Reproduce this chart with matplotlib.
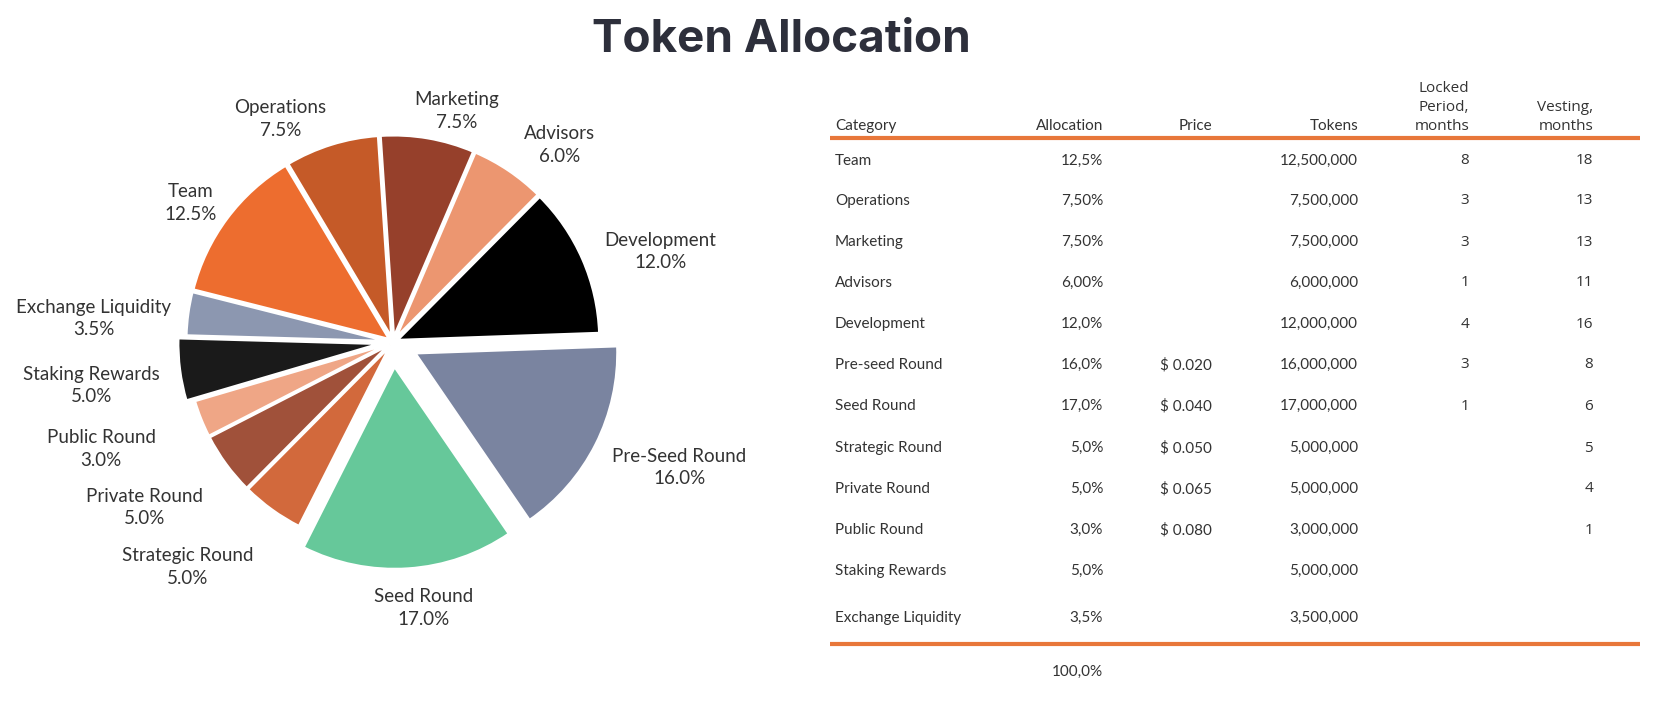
import numpy as np
import matplotlib
matplotlib.use("Agg")
import matplotlib.pyplot as plt

# ---------------- data ----------------
pie_labels = ["Development", "Advisors", "Marketing", "Operations", "Team",
              "Exchange Liquidity", "Staking Rewards", "Public Round",
              "Private Round", "Strategic Round", "Seed Round", "Pre-Seed Round"]
pie_values = [12.0, 6.0, 7.5, 7.5, 12.5, 3.5, 5.0, 3.0, 5.0, 5.0, 17.0, 16.0]

table_header = ["Category", "Allocation", "Price", "Tokens",
                "Locked\nPeriod,\nmonths", "Vesting,\nmonths"]
tbl_category = ["Team", "Operations", "Marketing", "Advisors", "Development",
                "Pre-seed Round", "Seed Round", "Strategic Round", "Private Round",
                "Public Round", "Staking Rewards", "Exchange Liquidity"]
tbl_allocation = ["12,5%", "7,50%", "7,50%", "6,00%", "12,0%", "16,0%", "17,0%",
                  "5,0%", "5,0%", "3,0%", "5,0%", "3,5%"]
tbl_price = ["", "", "", "", "", "$ 0.020", "$ 0.040", "$ 0.050", "$ 0.065",
             "$ 0.080", "", ""]
tbl_tokens = ["12,500,000", "7,500,000", "7,500,000", "6,000,000", "12,000,000",
              "16,000,000", "17,000,000", "5,000,000", "5,000,000", "3,000,000",
              "5,000,000", "3,500,000"]
tbl_locked = ["8", "3", "3", "1", "4", "3", "1", "", "", "", "", ""]
tbl_vesting = ["18", "13", "13", "11", "16", "8", "6", "5", "4", "1", "", ""]
tbl_total = "100,0%"

# ---------------- style ----------------
pie_colors = ["#000000", "#EC9670", "#96402B", "#C55A28", "#ED6D2F",
              "#8C97B0", "#1A1A1A", "#EFA686", "#A0513A", "#D2693C",
              "#66C89A", "#7A84A0"]
explode = [0.02, 0.02, 0.02, 0.02, 0.02, 0.02, 0.06, 0.02, 0.02, 0.02, 0.12, 0.12]
label_r = [1.39, 1.27, 1.18, 1.23, 1.21, 1.48, 1.50, 1.53, 1.47, 1.50, 1.32, 1.54]
label_dang = [-4.9, -6.2, -5.6, 9.5, 2.3, 3.4, 0.8, -1.7, -2.5, -6.5, 2.7, 3.1]

W, H = 1659, 703
fig = plt.figure(figsize=(W / 100, H / 100), dpi=100)
fig.patch.set_facecolor("white")

txt_color = "#333333"
label_font = ["Lato", "DejaVu Sans"]

# ---------------- pie ----------------
cx, cy, R, S = 393, 361, 203, 345
ax = fig.add_axes([(cx - S) / W, (cy - S) / H, 2 * S / W, 2 * S / H])
wedges, _ = ax.pie(pie_values, colors=pie_colors, explode=explode, startangle=2,
                   counterclock=True,
                   wedgeprops=dict(edgecolor="white", linewidth=2.2))
lim = S / R
ax.set_xlim(-lim, lim)
ax.set_ylim(-lim, lim)
ax.set_aspect("equal", adjustable="box")
ax.axis("off")
for w, name, val, r, da in zip(wedges, pie_labels, pie_values, label_r, label_dang):
    ang = np.deg2rad((w.theta1 + w.theta2) / 2 + da)
    ax.text(r * np.cos(ang), r * np.sin(ang), f"{name}\n{val:.1f}%",
            ha="center", va="center", fontsize=13.5, color=txt_color,
            family=label_font, linespacing=1.4)

# ---------------- title ----------------
fig.text(781 / W, 1 - 40 / H, "Token Allocation", ha="center", va="center",
         fontsize=33, fontweight="bold", color="#2D2F3B", family=["Inter", "DejaVu Sans"])

# ---------------- table ----------------
tx = fig.add_axes([0, 0, 1, 1])
tx.set_xlim(0, W)
tx.set_ylim(H, 0)
tx.axis("off")

col_x = [835, 1103, 1212, 1358, 1469, 1593]
col_ha = ["left", "right", "right", "right", "right", "right"]
header_y = 124
row_y = [161, 201, 242, 283, 324, 365, 406, 448, 489, 530, 571, 618]
tfs = 11
tfont = ["Lato", "DejaVu Sans"]
nfont = ["Open Sans", "DejaVu Sans"]

for x, ha, h in zip(col_x, col_ha, table_header):
    tx.text(x, header_y + 6, h, ha=ha, va="baseline", fontsize=tfs, color=txt_color,
            family=tfont if "months" not in h else nfont, linespacing=1.35)

tx.plot([830, 1640], [138, 138], color="#E8773A", lw=3, solid_capstyle="butt")
tx.plot([830, 1640], [644, 644], color="#E8773A", lw=3, solid_capstyle="butt")

columns = [tbl_category, tbl_allocation, tbl_price, tbl_tokens, tbl_locked, tbl_vesting]
for ci, (x, ha, col) in enumerate(zip(col_x, col_ha, columns)):
    for y, v in zip(row_y, col):
        if v:
            tx.text(x, y, v, ha=ha, va="center", fontsize=tfs, color=txt_color,
                    family=nfont if ci >= 4 else tfont)

tx.text(col_x[1], 672, tbl_total, ha="right", va="center", fontsize=tfs,
        color=txt_color, family=tfont)

fig.savefig("out.png", dpi=100, facecolor="white")
